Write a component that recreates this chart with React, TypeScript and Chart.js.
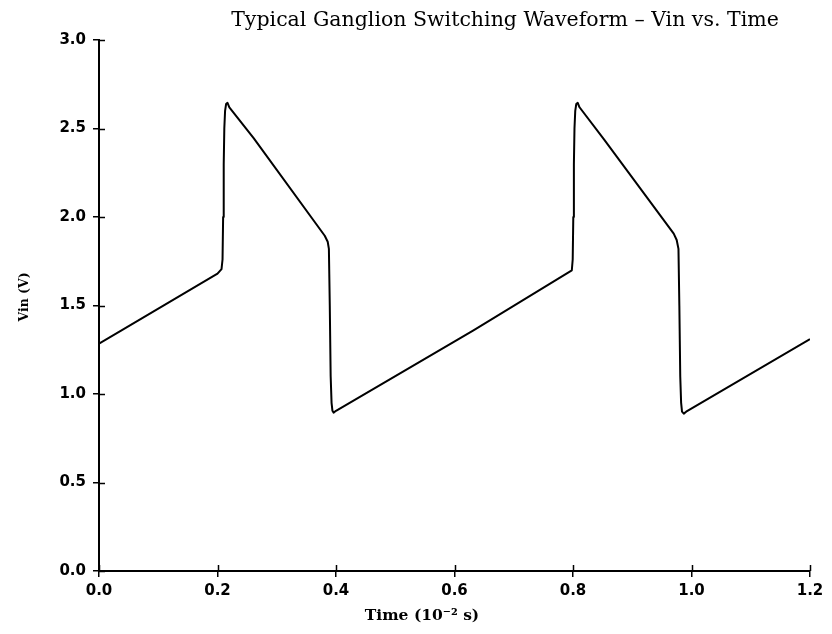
import { useEffect, useRef } from "react";
import { Chart, registerables } from "chart.js";

Chart.register(...registerables);

const chartTitle = "Typical Ganglion Switching Waveform \u2013 Vin vs. Time";
const xAxisTitle = "Time (10\u207B\u00B2 s)";
const yAxisTitle = "Vin (V)";

const xTickValues = [0, 0.2, 0.4, 0.6, 0.8, 1.0, 1.2];
const yTickValues = [0, 0.5, 1.0, 1.5, 2.0, 2.5, 3.0];

const timeValues = [
  0, 0.038, 0.2, 0.2068, 0.2085, 0.2095, 0.2105, 0.2115, 0.2128, 0.2145, 0.2169, 0.22, 0.261,
  0.381, 0.386, 0.388, 0.3895, 0.391, 0.3925, 0.394, 0.396, 0.4, 0.632, 0.798, 0.7995, 0.8005,
  0.8015, 0.8025, 0.8038, 0.8055, 0.808, 0.811, 0.852, 0.97, 0.975, 0.978, 0.9795, 0.981,
  0.9825, 0.984, 0.987, 0.991, 1.2,
];
const vinValues = [
  1.285, 1.36, 1.68, 1.706, 1.76, 2.0, 2.3, 2.5, 2.6, 2.638, 2.645, 2.62, 2.446,
  1.894, 1.86, 1.82, 1.5, 1.1, 0.95, 0.905, 0.895, 0.905, 1.36, 1.699, 1.76, 2.0,
  2.3, 2.5, 2.6, 2.638, 2.645, 2.62, 2.44, 1.906, 1.87, 1.82, 1.5, 1.1,
  0.95, 0.9, 0.889, 0.9, 1.31,
];

const textPlugin = {
  id: "customText",
  afterDraw(chart: any) {
    const ctx = chart.ctx;
    const xs = chart.scales.x;
    const ys = chart.scales.y;
    ctx.save();
    // inner halves of tick marks (ticks cross the axis)
    ctx.strokeStyle = "#000";
    ctx.lineWidth = 1.5;
    ctx.beginPath();
    for (const v of xTickValues) {
      const px = Math.round(xs.getPixelForValue(v)) + 0.5;
      ctx.moveTo(px, xs.top);
      ctx.lineTo(px, xs.top - 6);
    }
    for (const v of yTickValues) {
      const py = Math.round(ys.getPixelForValue(v)) + 0.5;
      ctx.moveTo(ys.right, py);
      ctx.lineTo(ys.right + 6, py);
    }
    ctx.stroke();

    ctx.fillStyle = "#000";
    ctx.font = "20.5px 'DejaVu Serif'";
    ctx.textAlign = "center";
    ctx.textBaseline = "alphabetic";
    ctx.fillText(chartTitle, 505, 26);

    ctx.font = "bold 15.5px 'DejaVu Serif'";
    ctx.textBaseline = "middle";
    ctx.fillText(xAxisTitle, 422, 616);

    ctx.font = "bold 12.5px 'DejaVu Serif'";
    ctx.translate(25, 297);
    ctx.rotate(-Math.PI / 2);
    ctx.fillText(yAxisTitle, 0, 0);
    ctx.restore();
  },
};

export default function App() {
  const canvasRef = useRef<HTMLCanvasElement | null>(null);

  useEffect(() => {
    const canvas = canvasRef.current;
    if (!canvas) return;
    const points = timeValues.map((t, i) => ({ x: t, y: vinValues[i] }));
    const tickFont = { family: "'DejaVu Sans'", size: 15, weight: "bold" as const };
    const chart = new Chart(canvas, {
      type: "line",
      data: {
        datasets: [
          {
            data: points,
            borderColor: "#000",
            borderWidth: 2,
            pointRadius: 0,
            tension: 0,
            borderJoinStyle: "round",
            fill: false,
          },
        ],
      },
      options: {
        animation: false,
        responsive: false,
        devicePixelRatio: 1,
        layout: { padding: { left: 40, top: 40, right: 22, bottom: 0 } },
        plugins: {
          legend: { display: false },
          title: { display: false },
          tooltip: { enabled: false },
        },
        scales: {
          x: {
            type: "linear",
            min: 0,
            max: 1.2,
            afterBuildTicks: (s: any) => {
              s.ticks = xTickValues.map((v) => ({ value: v }));
            },
            afterFit: (s: any) => {
              s.height = 63;
            },
            ticks: {
              color: "#000",
              font: tickFont,
              padding: 5,
              maxRotation: 0,
              autoSkip: false,
              callback: (v: any) => Number(v).toFixed(1),
            },
            grid: {
              display: true,
              drawOnChartArea: false,
              drawTicks: true,
              tickLength: 6,
              color: "#000",
              lineWidth: 1.5,
            },
            border: { display: true, color: "#000", width: 2 },
          },
          y: {
            type: "linear",
            min: 0,
            max: 3,
            afterBuildTicks: (s: any) => {
              s.ticks = yTickValues.map((v) => ({ value: v }));
            },
            afterFit: (s: any) => {
              s.width = 59;
            },
            ticks: {
              color: "#000",
              font: tickFont,
              padding: 7,
              autoSkip: false,
              callback: (v: any) => Number(v).toFixed(1),
            },
            grid: {
              display: true,
              drawOnChartArea: false,
              drawTicks: true,
              tickLength: 6,
              color: "#000",
              lineWidth: 1.5,
            },
            border: { display: true, color: "#000", width: 2 },
          },
        },
      },
      plugins: [textPlugin],
    });
    return () => chart.destroy();
  }, []);

  return (
    <div style={{ position: "fixed", left: 0, top: 0, width: 832, height: 634, background: "#fff" }}>
      <canvas ref={canvasRef} width={832} height={634} style={{ display: "block" }} />
    </div>
  );
}
